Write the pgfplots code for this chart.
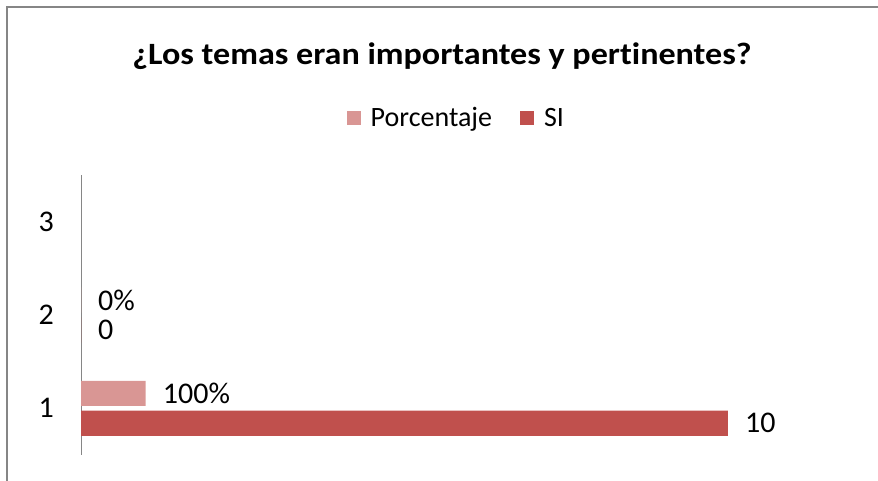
\documentclass[border=0pt]{standalone}
\usepackage{fontspec}
\setmainfont{Carlito}[Ligatures=NoCommon]
\newfontfamily\titlefont{Carlito}[FakeStretch=1.1, Ligatures=NoCommon]
\usepackage{pgfplots}
\pgfplotsset{compat=1.18}

\definecolor{porc}{RGB}{217,150,148}
\definecolor{si}{RGB}{192,80,77}
\definecolor{frame}{RGB}{134,134,134}

\begin{document}
\begin{tikzpicture}
\path[use as bounding box] (0pt,0pt) rectangle (878pt,481pt);
% chart border (only top and left visible)
\draw[frame, line width=2pt] (7pt,0pt) -- (7pt,474pt) -- (878pt,474pt);
\node[font=\titlefont\fontsize{31}{37}\selectfont\bfseries] at (442pt,425pt)
    {¿Los temas eran importantes y pertinentes?};

\begin{axis}[
    at={(81pt,26pt)}, anchor=south west,
    scale only axis,
    width=744pt, height=280pt,
    xbar, bar width=0.27,
    xmin=0, xmax=11.5,
    ymin=0.5, ymax=3.5,
    axis x line=none,
    axis y line*=left,
    y axis line style={draw=frame, line width=0.8pt},
    ytick={1,2,3},
    major tick length=0pt,
    /pgf/number format/assume math mode=true,
    yticklabel style={font=\fontsize{30}{36}\selectfont, anchor=east, inner sep=0pt, xshift=-27pt},
    nodes near coords,
    point meta=explicit symbolic,
    nodes near coords style={font=\fontsize{30}{36}\selectfont, anchor=west, inner sep=0pt, xshift=17pt},
    legend columns=-1,
    legend style={at={(0.5045,1.2036)}, anchor=center, draw=none,
        font=\fontsize{28}{33}\selectfont,
        /tikz/every even column/.append style={column sep=26pt}},
    legend image code/.code={\fill[#1] (0pt,-7pt) rectangle (14pt,7pt); \path (22pt,0pt);},
]
\addplot[fill=porc, draw=none, bar shift=0.16]
    coordinates {(1,1)[100\%] (0,2)[0\%]};
\addlegendentry{Porcentaje}
\addplot[fill=si, draw=none, bar shift=-0.16]
    coordinates {(10,1)[10] (0,2)[0]};
\addlegendentry{SI}
\end{axis}
\end{tikzpicture}
\end{document}
